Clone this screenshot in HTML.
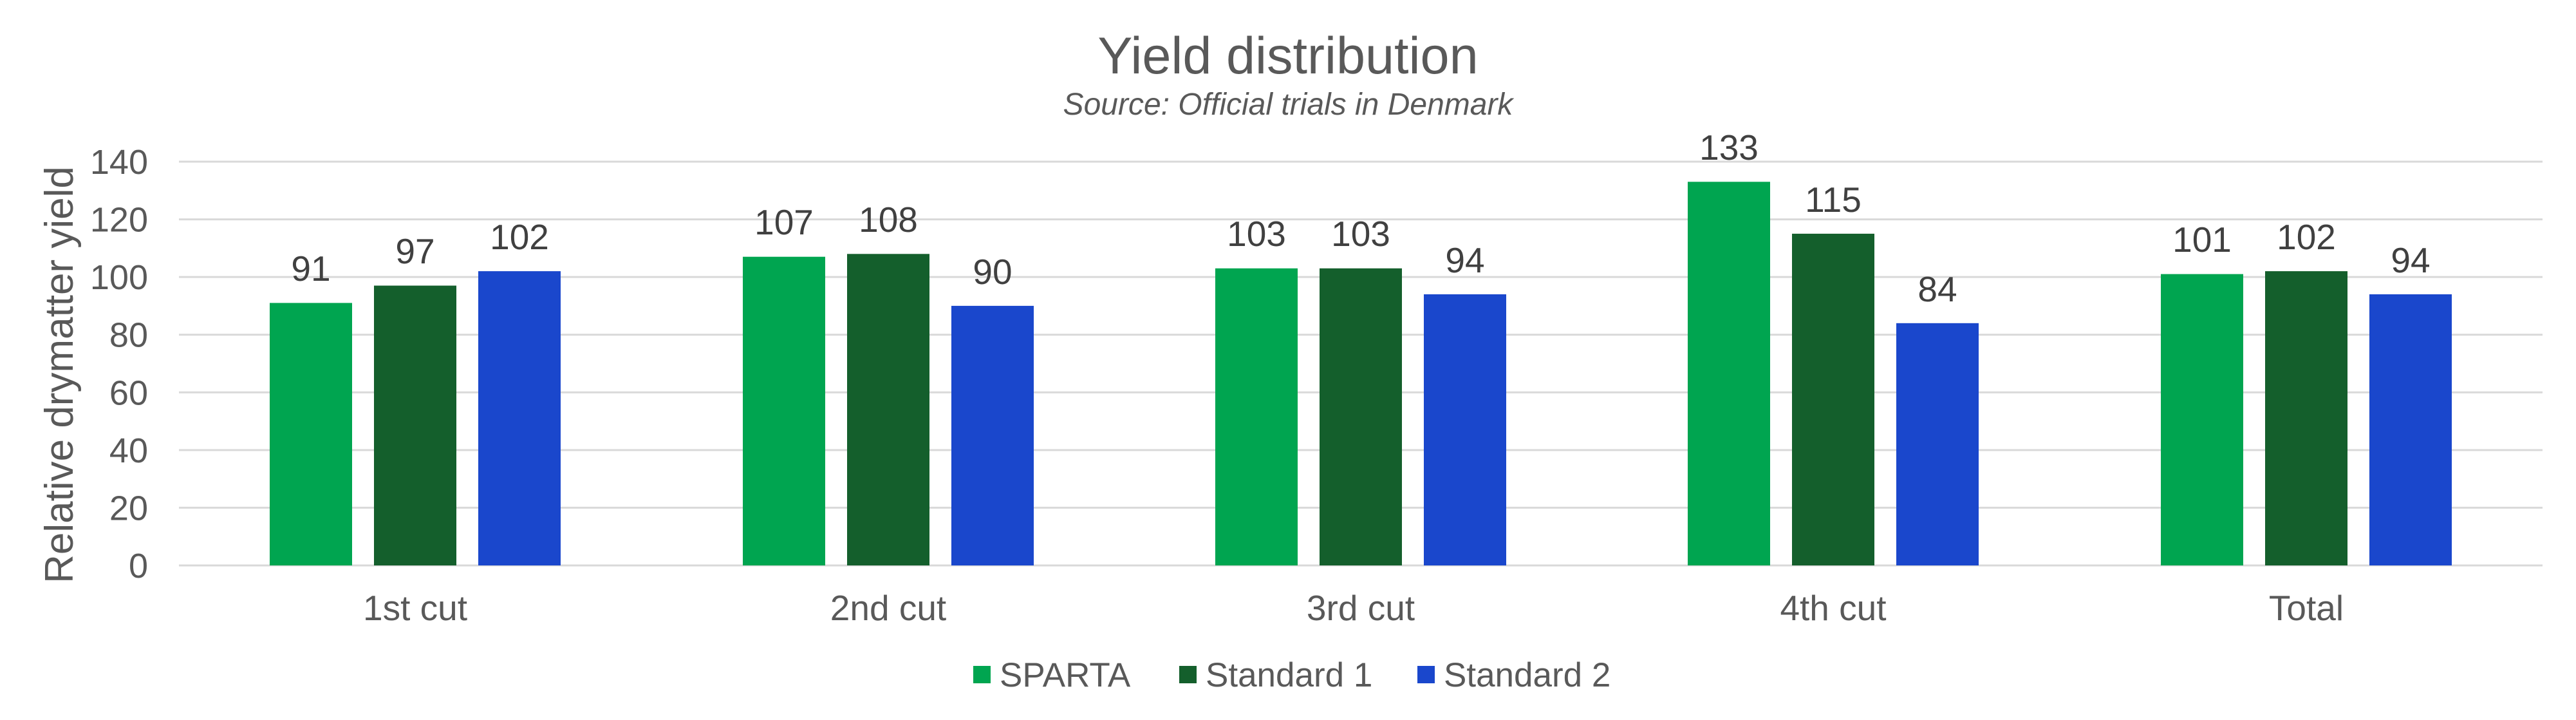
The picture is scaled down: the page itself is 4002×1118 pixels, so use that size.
<!DOCTYPE html>
<html><head><meta charset="utf-8"><style>html,body{margin:0;padding:0;background:#fff}svg{display:block}</style></head><body>
<svg width="4002" height="1118" viewBox="0 0 4002 1118" xmlns="http://www.w3.org/2000/svg" font-family="'Liberation Sans', Arial, sans-serif">
<rect width="4002" height="1118" fill="#fff"/>
<text x="2001" y="114" text-anchor="middle" font-size="81" fill="#595959">Yield distribution</text>
<text x="2001" y="178" text-anchor="middle" font-size="48" font-style="italic" fill="#595959">Source: Official trials in Denmark</text>
<g stroke="#d9d9d9" stroke-width="3">
<line x1="278" x2="3950" y1="251" y2="251"/><line x1="278" x2="3950" y1="340.6" y2="340.6"/><line x1="278" x2="3950" y1="430.1" y2="430.1"/><line x1="278" x2="3950" y1="519.7" y2="519.7"/><line x1="278" x2="3950" y1="609.3" y2="609.3"/><line x1="278" x2="3950" y1="698.9" y2="698.9"/><line x1="278" x2="3950" y1="788.4" y2="788.4"/><line x1="278" x2="3950" y1="878" y2="878"/>
</g>
<g font-size="54" fill="#595959" text-anchor="end">
<text x="230" y="270">140</text><text x="230" y="359.6">120</text><text x="230" y="449.1">100</text><text x="230" y="538.7">80</text><text x="230" y="628.3">60</text><text x="230" y="717.9">40</text><text x="230" y="807.4">20</text><text x="230" y="897">0</text>
</g>
<text transform="translate(113,582) rotate(-90)" text-anchor="middle" font-size="62" fill="#595959">Relative drymatter yield</text>
<g font-size="55" fill="#595959" text-anchor="middle">
<text x="645" y="963">1st cut</text><text x="1380" y="963">2nd cut</text><text x="2114" y="963">3rd cut</text><text x="2848" y="963">4th cut</text><text x="3583" y="963">Total</text>
</g>
<g font-size="53" fill="#595959">
<rect x="1512" y="1034" width="27" height="27" fill="#00a550"/><text x="1553" y="1066">SPARTA</text>
<rect x="1832" y="1034" width="27" height="27" fill="#145f2c"/><text x="1873" y="1066">Standard 1</text>
<rect x="2202" y="1034" width="27" height="27" fill="#1a47cc"/><text x="2243" y="1066">Standard 2</text>
</g>
<g>
<rect x="419" y="470.4" width="128" height="407.6" fill="#00a550"/><rect x="581" y="443.5" width="128" height="434.5" fill="#145f2c"/><rect x="743" y="421.1" width="128" height="456.9" fill="#1a47cc"/>
<rect x="1154" y="398.7" width="128" height="479.3" fill="#00a550"/><rect x="1316" y="394.3" width="128" height="483.7" fill="#145f2c"/><rect x="1478" y="474.9" width="128" height="403.1" fill="#1a47cc"/>
<rect x="1888" y="416.7" width="128" height="461.3" fill="#00a550"/><rect x="2050" y="416.7" width="128" height="461.3" fill="#145f2c"/><rect x="2212" y="457" width="128" height="421" fill="#1a47cc"/>
<rect x="2622" y="282.3" width="128" height="595.7" fill="#00a550"/><rect x="2784" y="362.9" width="128" height="515.1" fill="#145f2c"/><rect x="2946" y="501.8" width="128" height="376.2" fill="#1a47cc"/>
<rect x="3357" y="425.6" width="128" height="452.4" fill="#00a550"/><rect x="3519" y="421.1" width="128" height="456.9" fill="#145f2c"/><rect x="3681" y="457" width="128" height="421" fill="#1a47cc"/>
</g>
<g font-size="55" fill="#404040" text-anchor="middle">
<text x="483" y="436">91</text><text x="645" y="409">97</text><text x="807" y="387">102</text>
<text x="1218" y="364">107</text><text x="1380" y="360">108</text><text x="1542" y="441">90</text>
<text x="1952" y="382">103</text><text x="2114" y="382">103</text><text x="2276" y="423">94</text>
<text x="2686" y="248">133</text><text x="2848" y="329">115</text><text x="3010" y="468">84</text>
<text x="3421" y="391">101</text><text x="3583" y="387">102</text><text x="3745" y="423">94</text>
</g>
</svg>
</body></html>
